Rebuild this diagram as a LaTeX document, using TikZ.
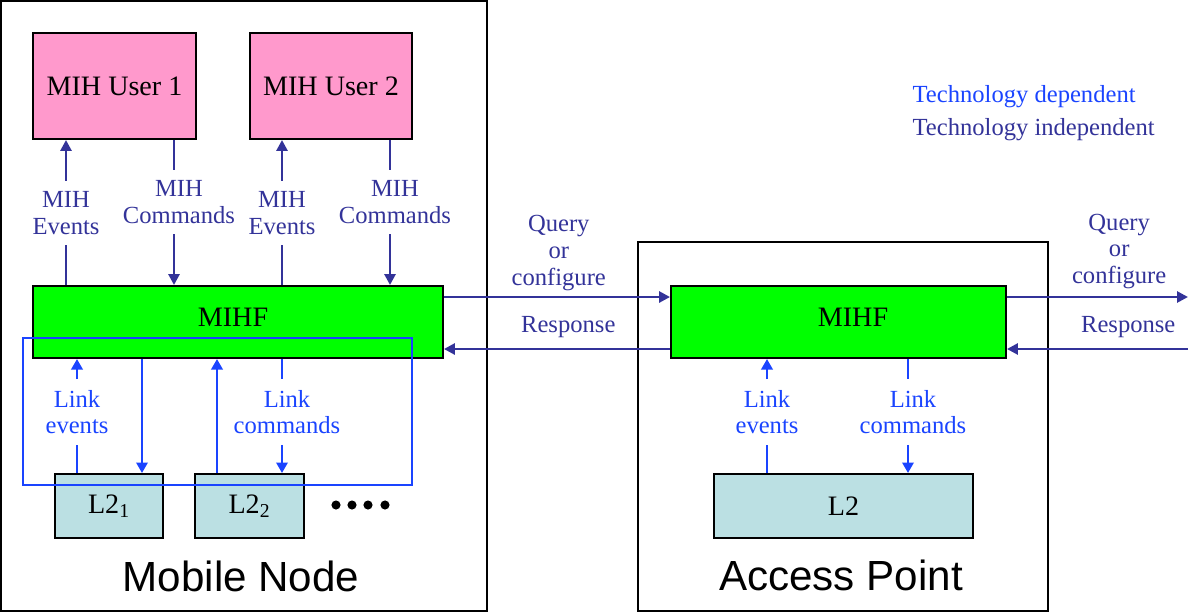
\documentclass[tikz,border=0pt]{standalone}
\usepackage{fontspec}
\setmainfont{Liberation Serif}
\newfontfamily\arialfont{Liberation Sans}
\usepackage{tikz}
\usetikzlibrary{arrows.meta}
\usetikzlibrary{fit,calc}
\definecolor{mihpink}{HTML}{FF99CC}
\definecolor{mihgreen}{HTML}{00FF00}
\definecolor{ltwo}{HTML}{BBE0E3}
\definecolor{indep}{HTML}{333399}
\definecolor{dep}{HTML}{1A44FF}
\tikzstyle{box}=[draw=black, line width=1.1pt, inner sep=0pt, font=\fontsize{16}{19}\selectfont]
\tikzstyle{userbox}=[box, fill=mihpink, minimum height=2.12cm]
\tikzstyle{mihfbox}=[box, fill=mihgreen, minimum height=1.44cm]
\tikzstyle{ltwobox}=[box, fill=ltwo, minimum height=1.28cm]
\tikzstyle{boxtext}=[inner sep=0pt, font=\fontsize{16}{19}\selectfont]
\tikzstyle{devbox}=[draw=black, line width=1.1pt, inner sep=0pt]
\tikzstyle{devname}=[inner sep=0pt, font=\arialfont\fontsize{24}{28}\selectfont]
\tikzstyle{lbl}=[align=center, inner xsep=2pt, inner ysep=6pt, font=\fontsize{14}{15.2}\selectfont]
\tikzstyle{indeplbl}=[lbl, text=indep]
\tikzstyle{deplbl}=[lbl, text=dep]
\tikzstyle{indepline}=[draw=indep, line width=1.5pt]
\tikzstyle{indeparr}=[indepline, -{Triangle[length=6.2pt,width=6.2pt]}]
\tikzstyle{depline}=[draw=dep, line width=1.5pt]
\tikzstyle{deparr}=[depline, -{Triangle[length=6pt,width=6.4pt]}]
\tikzstyle{depframe}=[draw=dep, line width=0.6pt, inner sep=0pt]
\begin{document}
\begin{tikzpicture}[x=0.02cm, y=-0.02cm]
\useasboundingbox (0,0) rectangle (1188,613);
% devices
\node[devbox, fit={(1,1) (487,611)}] (mn) {};
\node[devbox, fit={(638,242) (1048,611)}] (ap) {};
\node[devname] (mnname) at (241,576) {Mobile Node};
\node[devname] (apname) at (841,575) {Access Point};
% mobile node blocks
\node[userbox, minimum width=3.26cm] (user1) at (114.5,86) {MIH User 1};
\node[userbox, minimum width=3.24cm] (user2) at (331,86) {MIH User 2};
\node[mihfbox, minimum width=8.2cm] (mnmihf) at (238,322) {};
\node[boxtext] (mnmihftxt) at (233,317) {MIHF};
\node[ltwobox, minimum width=2.16cm] (l21) at (109,506) {L2\textsubscript{1}};
\node[ltwobox, minimum width=2.18cm] (l22) at (249.5,506) {L2\textsubscript{2}};
\foreach \x in {336,352,368,385}
	\fill (\x,505) circle (2.6pt);
% access point blocks
\node[mihfbox, minimum width=6.7cm] (apmihf) at (838.5,322) {};
\node[boxtext] (apmihftxt) at (853,317) {MIHF};
\node[ltwobox, minimum width=5.18cm] (apl2) at (843.5,506) {L2};
% technology dependent part
\node[depframe, fit={(23,338) (412,485)}] (depzone) {};
% legend
\node[anchor=west, inner sep=3pt, text=dep, font=\fontsize{14}{16}\selectfont] (legdep) at (907,97) {Technology dependent};
\node[anchor=west, inner sep=3pt, text=indep, font=\fontsize{14}{16}\selectfont] (legindep) at (907,130) {Technology independent};
% arrow positions
\coordinate (ev1) at (66,0);
\coordinate (cm1) at (174,0);
\coordinate (ev2) at (282,0);
\coordinate (cm2) at (390,0);
\coordinate (lev) at (77,0);
\coordinate (ldn) at (142,0);
\coordinate (lup) at (217,0);
\coordinate (lcm) at (282,0);
\coordinate (alev) at (767,0);
\coordinate (alcm) at (908,0);
\coordinate (qlevel) at (0,297);
\coordinate (rlevel) at (0,349);
\coordinate (qout) at (1188,297);
\coordinate (rin) at (1188,349);
% MIH events and commands
\node[indeplbl] (ev1lbl) at (66,213) {MIH\\Events};
\node[indeplbl] (cm1lbl) at (179,202) {MIH\\Commands};
\node[indeplbl] (ev2lbl) at (282,213) {MIH\\Events};
\node[indeplbl] (cm2lbl) at (395,202) {MIH\\Commands};
\draw[indepline] (mnmihf.north -| ev1) -- (ev1 |- ev1lbl.south);
\draw[indeparr] (ev1 |- ev1lbl.north) -- (user1.south -| ev1);
\draw[indepline] (user1.south -| cm1) -- (cm1 |- cm1lbl.north);
\draw[indeparr] (cm1 |- cm1lbl.south) -- (mnmihf.north -| cm1);
\draw[indepline] (mnmihf.north -| ev2) -- (ev2 |- ev2lbl.south);
\draw[indeparr] (ev2 |- ev2lbl.north) -- (user2.south -| ev2);
\draw[indepline] (user2.south -| cm2) -- (cm2 |- cm2lbl.north);
\draw[indeparr] (cm2 |- cm2lbl.south) -- (mnmihf.north -| cm2);
% link events and commands, mobile node
\node[deplbl] (levlbl) at (77,412) {Link\\events};
\node[deplbl] (lcmlbl) at (287,412) {Link\\commands};
\draw[depline] (l21.north -| lev) -- (lev |- levlbl.south);
\draw[deparr] (lev |- levlbl.north) -- (mnmihf.south -| lev);
\draw[deparr] (mnmihf.south -| ldn) -- (l21.north -| ldn);
\draw[deparr] (l22.north -| lup) -- (mnmihf.south -| lup);
\draw[depline] (mnmihf.south -| lcm) -- (lcm |- lcmlbl.north);
\draw[deparr] (lcm |- lcmlbl.south) -- (l22.north -| lcm);
% link events and commands, access point
\node[deplbl] (alevlbl) at (767,412) {Link\\events};
\node[deplbl] (alcmlbl) at (913,412) {Link\\commands};
\draw[depline] (apl2.north -| alev) -- (alev |- alevlbl.south);
\draw[deparr] (alev |- alevlbl.north) -- (apmihf.south -| alev);
\draw[depline] (apmihf.south -| alcm) -- (alcm |- alcmlbl.north);
\draw[deparr] (alcm |- alcmlbl.south) -- (apl2.north -| alcm);
% query and response
\draw[indeparr] (mnmihf.east |- qlevel) -- node[indeplbl, pos=0.5, xshift=1pt, yshift=25pt] (q1lbl) {Query\\or\\configure} (apmihf.west |- qlevel);
\draw[indeparr] (apmihf.west |- rlevel) -- node[indeplbl, pos=0.45, yshift=12.4pt] (r1lbl) {Response} (mnmihf.east |- rlevel);
\draw[indeparr] (apmihf.east |- qlevel) -- node[indeplbl, pos=0.62, yshift=26pt] (q2lbl) {Query\\or\\configure} (qout);
\draw[indeparr] (rin) -- node[indeplbl, pos=0.33, yshift=12.4pt] (r2lbl) {Response} (apmihf.east |- rlevel);
\end{tikzpicture}
\end{document}
